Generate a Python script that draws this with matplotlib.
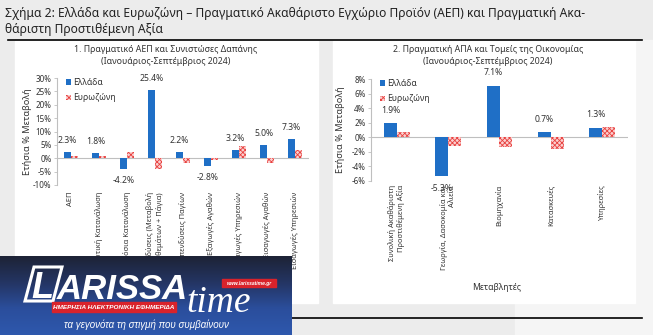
import numpy as np
import matplotlib
matplotlib.use('Agg')
import matplotlib.pyplot as plt
from matplotlib.patches import Rectangle, Polygon
from matplotlib.colors import LinearSegmentedColormap

plt.rcParams['font.family'] = ['Noto Sans', 'DejaVu Sans']
plt.rcParams['hatch.linewidth'] = 0.6

# δεδομένα
cats1 = ['ΑΕΠ', 'Ιδιωτική Κατανάλωση', 'Δημόσια Κατανάλωση',
         'Επενδύσεις (Μεταβολή\nΑποθεμάτων + Πάγια)', 'Επενδύσεις Παγίων',
         'Εξαγωγές Αγαθών', 'Εξαγωγές Υπηρεσιών', 'Εισαγωγές Αγαθών',
         'Εισαγωγές Υπηρεσιών']
gr1 = [2.3, 1.8, -4.2, 25.4, 2.2, -2.8, 3.2, 5.0, 7.3]
ez1 = [0.8, 0.8, 2.4, -4.0, -1.8, -0.8, 4.6, -1.8, 3.2]

cats2 = ['Συνολική Ακαθάριστη\nΠροστιθέμενη Αξία', 'Γεωργία, Δασοκομία και\nΑλιεία',
         'Βιομηχανία', 'Κατασκευές', 'Υπηρεσίες']
gr2 = [1.9, -5.3, 7.1, 0.7, 1.3]
ez2 = [0.7, -1.2, -1.3, -1.6, 1.4]

BLUE = '#1f6fc6'
RED = '#e8413f'
PINK = '#fbd0d0'
W, H = 653, 335

fig = plt.figure(figsize=(W / 100, H / 100), dpi=100)

def frac(x, y, w, h):
    return [x / W, 1 - (y + h) / H, w / W, h / H]

# ---------- φόντο σελίδας ----------
bg = fig.add_axes([0, 0, 1, 1], zorder=0)
bg.set_xlim(0, W)
bg.set_ylim(H, 0)
bg.axis('off')
bg.add_patch(Rectangle((0, 0), W, H, color='#ececec'))
bg.add_patch(Rectangle((515, 40), W - 515, H - 40, color='#f5f5f5'))
bg.add_patch(Rectangle((15, 41), 303, 262, color='white'))
bg.add_patch(Rectangle((333, 41), 302, 262, color='white'))
bg.plot([8, 642], [40, 40], color='black', lw=1.2)
bg.plot([0, 642], [318, 318], color='black', lw=1.2)
bg.text(5, 13, 'Σχήμα 2: Ελλάδα και Ευρωζώνη – Πραγματικό Ακαθάριστο Εγχώριο Προϊόν (ΑΕΠ) και Πραγματική Ακα-',
        fontsize=8.7, va='center', ha='left', color='#222222')
bg.text(5, 30, 'θάριστη Προστιθέμενη Αξία', fontsize=8.7, va='center', ha='left', color='#222222')


def panel(ax, cats, gr, ez, ylim, step, offset, pad):
    x = np.arange(len(cats))
    w = 0.25
    ax.bar(x - w / 2, gr, w, color=BLUE, label='Ελλάδα', zorder=3)
    ax.bar(x + w / 2, ez, w, color=PINK, edgecolor=RED, hatch='xxxxxxx', lw=0,
           label='Ευρωζώνη', zorder=3)
    for xi, v in zip(x, gr):
        ax.annotate(f'{v:.1f}%', (xi - w / 2, v), xytext=(0, offset if v >= 0 else -offset),
                    textcoords='offset points', ha='center',
                    va='bottom' if v >= 0 else 'top', fontsize=6.2, color='#333333')
    ax.axhline(0, color='#bfbfbf', lw=0.8, zorder=2)
    ax.set_xlim(-0.5, len(cats) - 0.5)
    ax.set_ylim(*ylim)
    ax.set_yticks(np.arange(ylim[0], ylim[1] + 0.1, step))
    ax.set_yticklabels([f'{int(t)}%' for t in ax.get_yticks()])
    ax.set_xticks(x)
    ax.set_xticklabels(cats, rotation=90, fontsize=5.4, color='#333333',
                       va='top', ha='center', multialignment='right')
    ax.tick_params(axis='x', length=0, pad=pad)
    ax.tick_params(axis='y', labelsize=5.8, colors='#333333', length=2.5, width=0.6,
                   color='#bfbfbf', pad=1.5)
    for s in ['top', 'right', 'bottom']:
        ax.spines[s].set_visible(False)
    ax.spines['left'].set_color('#bfbfbf')
    ax.spines['left'].set_linewidth(0.8)
    ax.patch.set_alpha(0)
    ax.set_ylabel('Ετήσια % Μεταβολή', fontsize=6.6, color='#333333', fontweight='bold')
    ax.legend(loc='upper left', bbox_to_anchor=(0.035, 1.0), frameon=False,
              handlelength=0.55, handleheight=0.6, handletextpad=0.3,
              labelspacing=0.75, fontsize=6.2, borderpad=0, borderaxespad=0,
              labelcolor='#333333')


ax1 = fig.add_axes(frac(57, 78, 252, 107), zorder=2)
panel(ax1, cats1, gr1, ez1, (-10, 30), 5, 5, 5)
ax1.yaxis.set_label_coords(-0.10, 0.5)
fig.text(166 / W, 1 - 49 / H, '1. Πραγματικό ΑΕΠ και Συνιστώσες Δαπάνης',
         ha='center', va='center', fontsize=6.3, color='#333333')
fig.text(166 / W, 1 - 61 / H, '(Ιανουάριος-Σεπτέμβριος 2024)',
         ha='center', va='center', fontsize=6.3, color='#333333')

ax2 = fig.add_axes(frac(371, 79, 257, 102), zorder=2)
panel(ax2, cats2, gr2, ez2, (-6, 8), 2, 6, 3)
ax2.yaxis.set_label_coords(-0.10, 0.5)
fig.text(488 / W, 1 - 49 / H, '2. Πραγματική ΑΠΑ και Τομείς της Οικονομίας',
         ha='center', va='center', fontsize=6.3, color='#333333')
fig.text(488 / W, 1 - 61 / H, '(Ιανουάριος-Σεπτέμβριος 2024)',
         ha='center', va='center', fontsize=6.3, color='#333333')
fig.text(497 / W, 1 - 287 / H, 'Μεταβλητές', ha='center', va='center',
         fontsize=6.2, color='#333333')

# ---------- λογότυπο ----------
top = fig.add_axes([0, 0, 1, 1], zorder=10)
top.axis('off')
top.patch.set_alpha(0)
cmap = LinearSegmentedColormap.from_list('lg', ['#1d2336', '#243563', '#2b4e9c', '#2e58ad'])
grad = np.linspace(0, 1, 100).reshape(-1, 1)
top.imshow(grad, cmap=cmap, extent=[0, 292, 335, 256], aspect='auto', zorder=1)
top.set_xlim(0, W)
top.set_ylim(H, 0)
top.add_patch(Polygon([(34, 267), (62, 267), (53, 301), (25, 301)], closed=True,
                      fill=False, edgecolor='white', lw=2.2, zorder=2))
top.text(42, 298, 'L', fontsize=26, fontweight='bold', style='italic', color='white',
         ha='center', va='baseline', family='Liberation Sans', zorder=3)
top.text(57, 299, 'ARISSA', fontsize=25, fontweight='bold', style='italic', color='white',
         ha='left', va='baseline', family='Liberation Sans', zorder=3)
top.text(186, 312, 'time', fontsize=27, style='italic', color='white',
         ha='left', va='baseline', family='Liberation Serif', zorder=3)
top.add_patch(Rectangle((222, 279), 54, 8, color='#d9232b', zorder=4))
top.text(249, 283.3, 'www.larissatime.gr', fontsize=3.6, fontweight='bold', style='italic',
         color='white', ha='center', va='center', family='Liberation Sans', zorder=5)
top.add_patch(Rectangle((52, 302), 124, 10, color='#d9232b', zorder=2))
top.text(114, 307.3, 'ΗΜΕΡΗΣΙΑ ΗΛΕΚΤΡΟΝΙΚΗ ΕΦΗΜΕΡΙΔΑ', fontsize=4.6, fontweight='bold',
         style='italic', color='white', ha='center', va='center', family='Liberation Sans',
         zorder=3)
top.text(146, 325, 'τα γεγονότα τη στιγμή που συμβαίνουν', fontsize=7, style='italic',
         color='white', ha='center', va='center', family='Liberation Sans', zorder=3)

fig.savefig('out.png', dpi=100)
